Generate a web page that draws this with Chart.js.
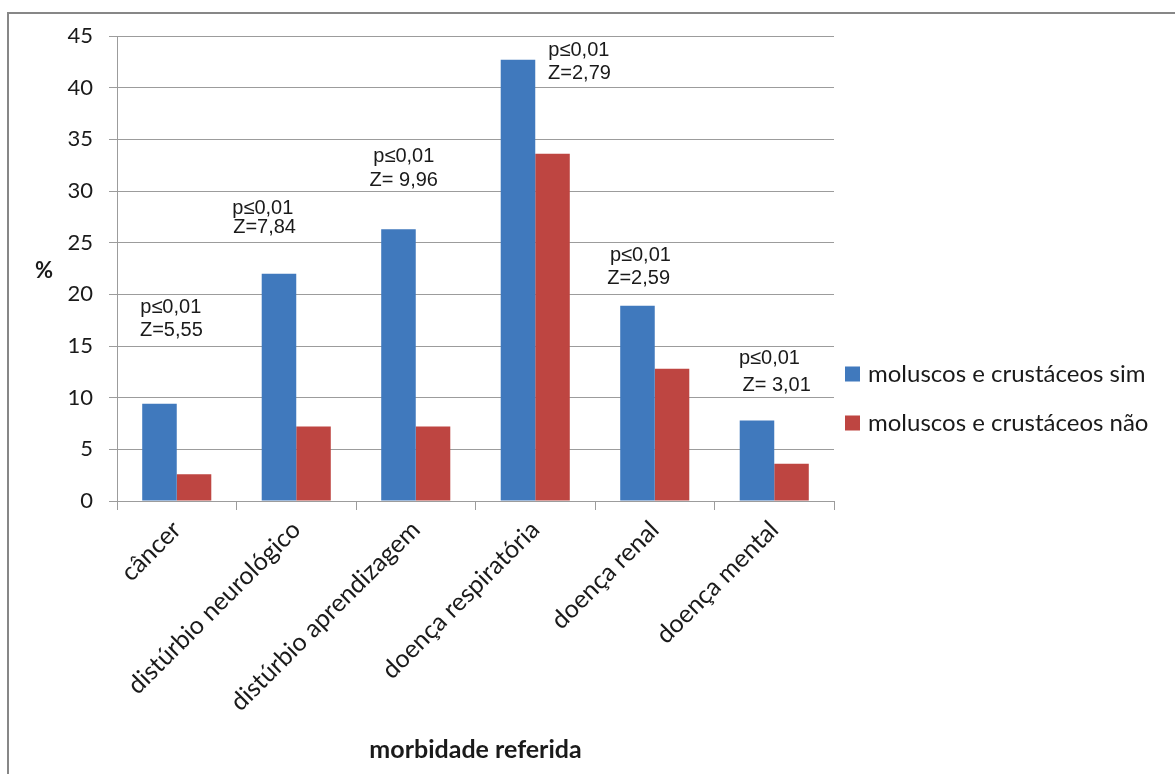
<!DOCTYPE html>
<html>
<head>
<meta charset="utf-8">
<script src="https://cdn.jsdelivr.net/npm/chart.js@4/dist/chart.umd.min.js"></script>
<style>
  html, body { margin: 0; padding: 0; background: #fff; }
  #wrap { width: 1175px; height: 774px; position: relative; }
</style>
</head>
<body>
<div id="wrap"><canvas id="c" width="1175" height="774"></canvas></div>
<script>
// Categories and values (%)
const categories = ['câncer', 'distúrbio neurológico', 'distúrbio aprendizagem', 'doença respiratória', 'doença renal', 'doença mental'];
const seriesNames = ['moluscos e crustáceos sim', 'moluscos e crustáceos não'];
const valuesSim = [9.4, 22.0, 26.3, 42.7, 18.9, 7.8];
const valuesNao = [2.6, 7.2, 7.2, 33.6, 12.8, 3.6];

// Significance notes above each group
const pLabels = ['p≤0,01', 'p≤0,01', 'p≤0,01', 'p≤0,01', 'p≤0,01', 'p≤0,01'];
const zLabels = ['Z=5,55', 'Z=7,84', 'Z= 9,96', 'Z=2,79', 'Z=2,59', 'Z= 3,01'];

// Axis settings
const yMin = 0, yMax = 45, yStep = 5;
const xTitle = 'morbidade referida';
const yTitle = '%';

// Where each note sits: shift in category units, line heights in axis units
const notePlacement = [
  { dx1: -0.05, dx2: -0.045, y1: 18.7, y2: 16.5 },
  { dx1: -0.28, dx2: -0.265, y1: 28.3, y2: 26.5 },
  { dx1: -0.10, dx2: -0.10, y1: 33.3, y2: 31.0 },
  { dx1: 0.365, dx2: 0.37, y1: 43.6, y2: 41.4 },
  { dx1: -0.12, dx2: -0.135, y1: 23.8, y2: 21.5 },
  { dx1: -0.04, dx2: 0.02, y1: 13.8, y2: 11.2 }
];

const colors = ['#4079bd', '#be4541'];
const gridColor = '#9c9c9c';
const textColor = '#1a1a1a';
const uiFont = 'Lato, "Open Sans", sans-serif';
const noteFont = '"Liberation Sans", Arial, sans-serif';

const framePlugin = {
  id: 'frame',
  beforeDraw(chart) {
    const ctx = chart.ctx;
    ctx.save();
    ctx.fillStyle = '#ffffff';
    ctx.fillRect(0, 0, chart.width, chart.height);
    ctx.strokeStyle = '#878787';
    ctx.lineWidth = 2;
    ctx.beginPath();
    ctx.moveTo(8, chart.height);
    ctx.lineTo(8, 13);
    ctx.lineTo(chart.width, 13);
    ctx.stroke();
    ctx.restore();
  }
};

const notesPlugin = {
  id: 'notes',
  afterDatasetsDraw(chart) {
    const ctx = chart.ctx;
    const xs = chart.scales.x, ys = chart.scales.y;
    ctx.save();
    ctx.fillStyle = textColor;
    ctx.font = '20px ' + noteFont;
    ctx.textAlign = 'center';
    ctx.textBaseline = 'middle';
    categories.forEach((c, i) => {
      const pl = notePlacement[i];
      ctx.fillText(pLabels[i], xs.getPixelForValue(i + pl.dx1), ys.getPixelForValue(pl.y1));
      ctx.fillText(zLabels[i], xs.getPixelForValue(i + pl.dx2), ys.getPixelForValue(pl.y2));
    });
    ctx.restore();
  }
};

const sideLegendPlugin = {
  id: 'sideLegend',
  afterDraw(chart) {
    const ctx = chart.ctx;
    const area = chart.chartArea;
    ctx.save();
    ctx.font = '24px ' + uiFont;
    ctx.textBaseline = 'middle';
    ctx.textAlign = 'left';
    chart.data.datasets.forEach((ds, i) => {
      const cy = 374 + i * 49;
      ctx.fillStyle = ds.backgroundColor;
      ctx.fillRect(area.right + 11, cy - 7.5, 15, 15);
      ctx.fillStyle = textColor;
      ctx.fillText(ds.label, area.right + 34, cy);
    });
    ctx.restore();
  }
};

const yTitlePlugin = {
  id: 'yTitleFlat',
  afterDraw(chart) {
    const ctx = chart.ctx;
    const area = chart.chartArea;
    ctx.save();
    ctx.font = 'bold 22px ' + uiFont;
    ctx.fillStyle = textColor;
    ctx.textAlign = 'center';
    ctx.textBaseline = 'middle';
    ctx.fillText(yTitle, 44, (area.top + area.bottom) / 2 + 2);
    ctx.restore();
  }
};

new Chart(document.getElementById('c'), {
  type: 'bar',
  data: {
    labels: categories,
    datasets: [
      { label: seriesNames[0], data: valuesSim, backgroundColor: colors[0] },
      { label: seriesNames[1], data: valuesNao, backgroundColor: colors[1] }
    ]
  },
  options: {
    responsive: false,
    devicePixelRatio: 1,
    animation: false,
    layout: { padding: { left: 0, top: 36, right: 341, bottom: 0 } },
    datasets: { bar: { categoryPercentage: 0.578, barPercentage: 1.0 } },
    plugins: {
      legend: { display: false },
      tooltip: { enabled: false }
    },
    scales: {
      x: {
        offset: true,
        grid: { display: true, drawOnChartArea: false, drawTicks: true, tickLength: 9, color: gridColor, offset: true },
        border: { display: true, color: gridColor },
        ticks: {
          minRotation: 45, maxRotation: 45, autoSkip: false,
          color: textColor, padding: 5,
          font: { family: uiFont, size: 25 }
        },
        title: {
          display: true, text: xTitle, color: textColor,
          font: { family: uiFont, size: 25, weight: 'bold' },
          padding: { top: 0, bottom: 9 }
        },
        afterFit(scale) { scale.height = 273; }
      },
      y: {
        min: yMin, max: yMax,
        grid: { color: gridColor, tickLength: 8 },
        border: { display: true, color: gridColor },
        ticks: {
          stepSize: yStep, color: textColor, padding: 16,
          font: { family: uiFont, size: 22 }
        },
        afterFit(scale) { scale.width = 117; }
      }
    }
  },
  plugins: [framePlugin, notesPlugin, sideLegendPlugin, yTitlePlugin]
});
</script>
</body>
</html>
